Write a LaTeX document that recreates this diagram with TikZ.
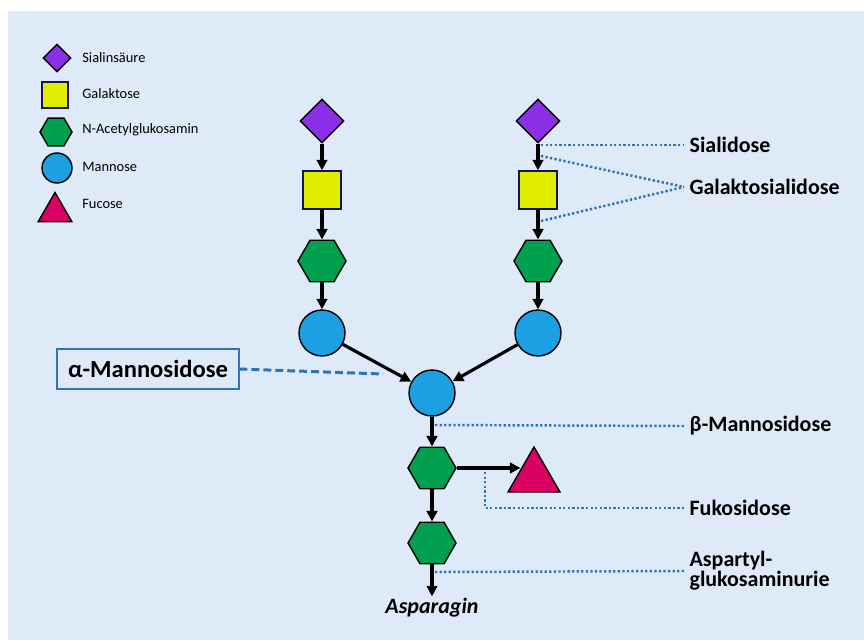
\documentclass[tikz,border=0pt]{standalone}
\usepackage{fontspec}
\setmainfont{Carlito}
\usepackage{tikz}
\usetikzlibrary{shapes.geometric, arrows.meta, calc}
\definecolor{hinter}{RGB}{222, 234, 247}
\definecolor{lila}{RGB}{140, 45, 232}
\definecolor{gelb}{RGB}{224, 238, 0}
\definecolor{gruen}{RGB}{0, 160, 78}
\definecolor{blau}{RGB}{28, 160, 226}
\definecolor{magenta}{RGB}{218, 0, 100}
\definecolor{linie}{RGB}{46, 117, 182}
\definecolor{rand}{RGB}{20, 20, 90}
\tikzset{
    sia/.style={diamond, draw=black, fill=lila, line width=0.8pt, inner sep=0pt, minimum size=0.88cm},
    gal/.style={rectangle, draw=rand, fill=gelb, line width=0.8pt, inner sep=0pt, minimum size=0.76cm},
    glc/.style={regular polygon, regular polygon sides=6, draw=black, fill=gruen, line width=0.8pt, inner sep=0pt, minimum size=0.96cm},
    man/.style={circle, draw=black, fill=blau, line width=0.8pt, inner sep=0pt, minimum size=0.92cm},
    fuc/.style={regular polygon, regular polygon sides=3, draw=black, fill=magenta, line width=0.8pt, inner sep=0pt, minimum size=1.2cm},
    legtxt/.style={anchor=west, inner sep=0pt, font=\fontsize{8.2}{10}\selectfont},
    lab/.style={anchor=west, inner sep=3pt, align=left, font=\bfseries\fontsize{12.5}{11.5}\selectfont},
    conn/.style={-{Triangle[length=6pt, width=6pt]}, black, line width=1.8pt},
    dots/.style={linie, line width=1.4pt, dash pattern=on 1.3pt off 1.3pt},
    dashline/.style={linie, line width=1.7pt, dash pattern=on 4.5pt off 2.3pt},
}
\begin{document}
\begin{tikzpicture}[x=0.02cm, y=-0.02cm]
    \useasboundingbox (0,0) rectangle (864,642);
    \fill[hinter] (8,11) rectangle (864,640);

    % legend
    \node[sia, minimum size=0.56cm] (lsia) at (57,58) {};
    \node[gal, minimum size=0.52cm] (lgal) at (55,95) {};
    \node[glc, minimum size=0.64cm] (lglc) at (56,132) {};
    \node[man, minimum size=0.6cm] (lman) at (57,168) {};
    \node[fuc, minimum size=0.78cm] (lfuc) at (55,212) {};
    \node[legtxt] (tsia) at (82,58) {Sialinsäure};
    \node[legtxt] (tgal) at (82,94) {Galaktose};
    \node[legtxt] (tglc) at (82,130) {N-Acetylglukosamin};
    \node[legtxt] (tman) at (82,167) {Mannose};
    \node[legtxt] (tfuc) at (82,204) {Fucose};

    % glycan
    \node[sia] (sia1) at (322,121) {};
    \node[gal] (gal1) at (322,190) {};
    \node[glc] (glc1) at (322,261) {};
    \node[man] (man1) at (322,333) {};
    \node[sia] (sia2) at (538,121) {};
    \node[gal] (gal2) at (538,190) {};
    \node[glc] (glc2) at (538,261) {};
    \node[man] (man2) at (538,333) {};
    \node[man] (man3) at (432,393) {};
    \node[glc] (glc3) at (432,468) {};
    \node[fuc] (fuc) at (534,477) {};
    \node[glc] (glc4) at (432,543) {};
    \node[font=\bfseries\itshape\fontsize{12.5}{13}\selectfont, inner sep=1pt] (asn) at (432,608) {Asparagin};
    \coordinate (fucin) at ($(fuc.corner 1)!0.5!(fuc.corner 2)$);

    \draw[conn] (sia1) -- (gal1);
    \draw[conn] (gal1) -- (glc1);
    \draw[conn] (glc1) -- (man1);
    \draw[conn] (sia2) -- (gal2);
    \draw[conn] (gal2) -- (glc2);
    \draw[conn] (glc2) -- (man2);
    \draw[conn] (man1) -- (man3);
    \draw[conn] (man2) -- (man3);
    \draw[conn] (man3) -- (glc3);
    \draw[conn] (glc3.east) -- (glc3.east -| fucin);
    \draw[conn] (glc3) -- (glc4);
    \draw[conn] (glc4) -- (asn.north);

    % enzymes
    \node[lab] (sialid) at (684,145) {Sialidose};
    \node[lab] (galsia) at (684,187) {Galaktosialidose};
    \node[lab] (betam) at (684,426) {β-Mannosidose};
    \node[lab] (fukos) at (684,508) {Fukosidose};
    \node[lab] (aspgl) at (684,571) {Aspartyl-\\glukosaminurie};
    \node[draw=linie, line width=0.6pt, minimum width=3.64cm, minimum height=0.8cm, font=\bfseries\fontsize{14}{15}\selectfont] (alpham) at (148,369) {α-Mannosidose};

    \coordinate (d1) at (541,145);
    \coordinate (d2) at (541,156);
    \coordinate (d3) at (541,221);
    \coordinate (d4) at (435,425);
    \coordinate (d5) at (485,472);
    \coordinate (d6) at (435,572);
    \coordinate (d7) at (383,374);

    \draw[dots] (d1) -- (sialid.west);
    \draw[dots] (d2) -- (galsia.west);
    \draw[dots] (d3) -- (galsia.west);
    \draw[dots] (d4) -- (betam.west);
    \draw[dots] (d5) |- (fukos.west);
    \draw[dots] (d6) -- (aspgl.west);
    \draw[dashline] (alpham.east) -- (d7);
\end{tikzpicture}
\end{document}
